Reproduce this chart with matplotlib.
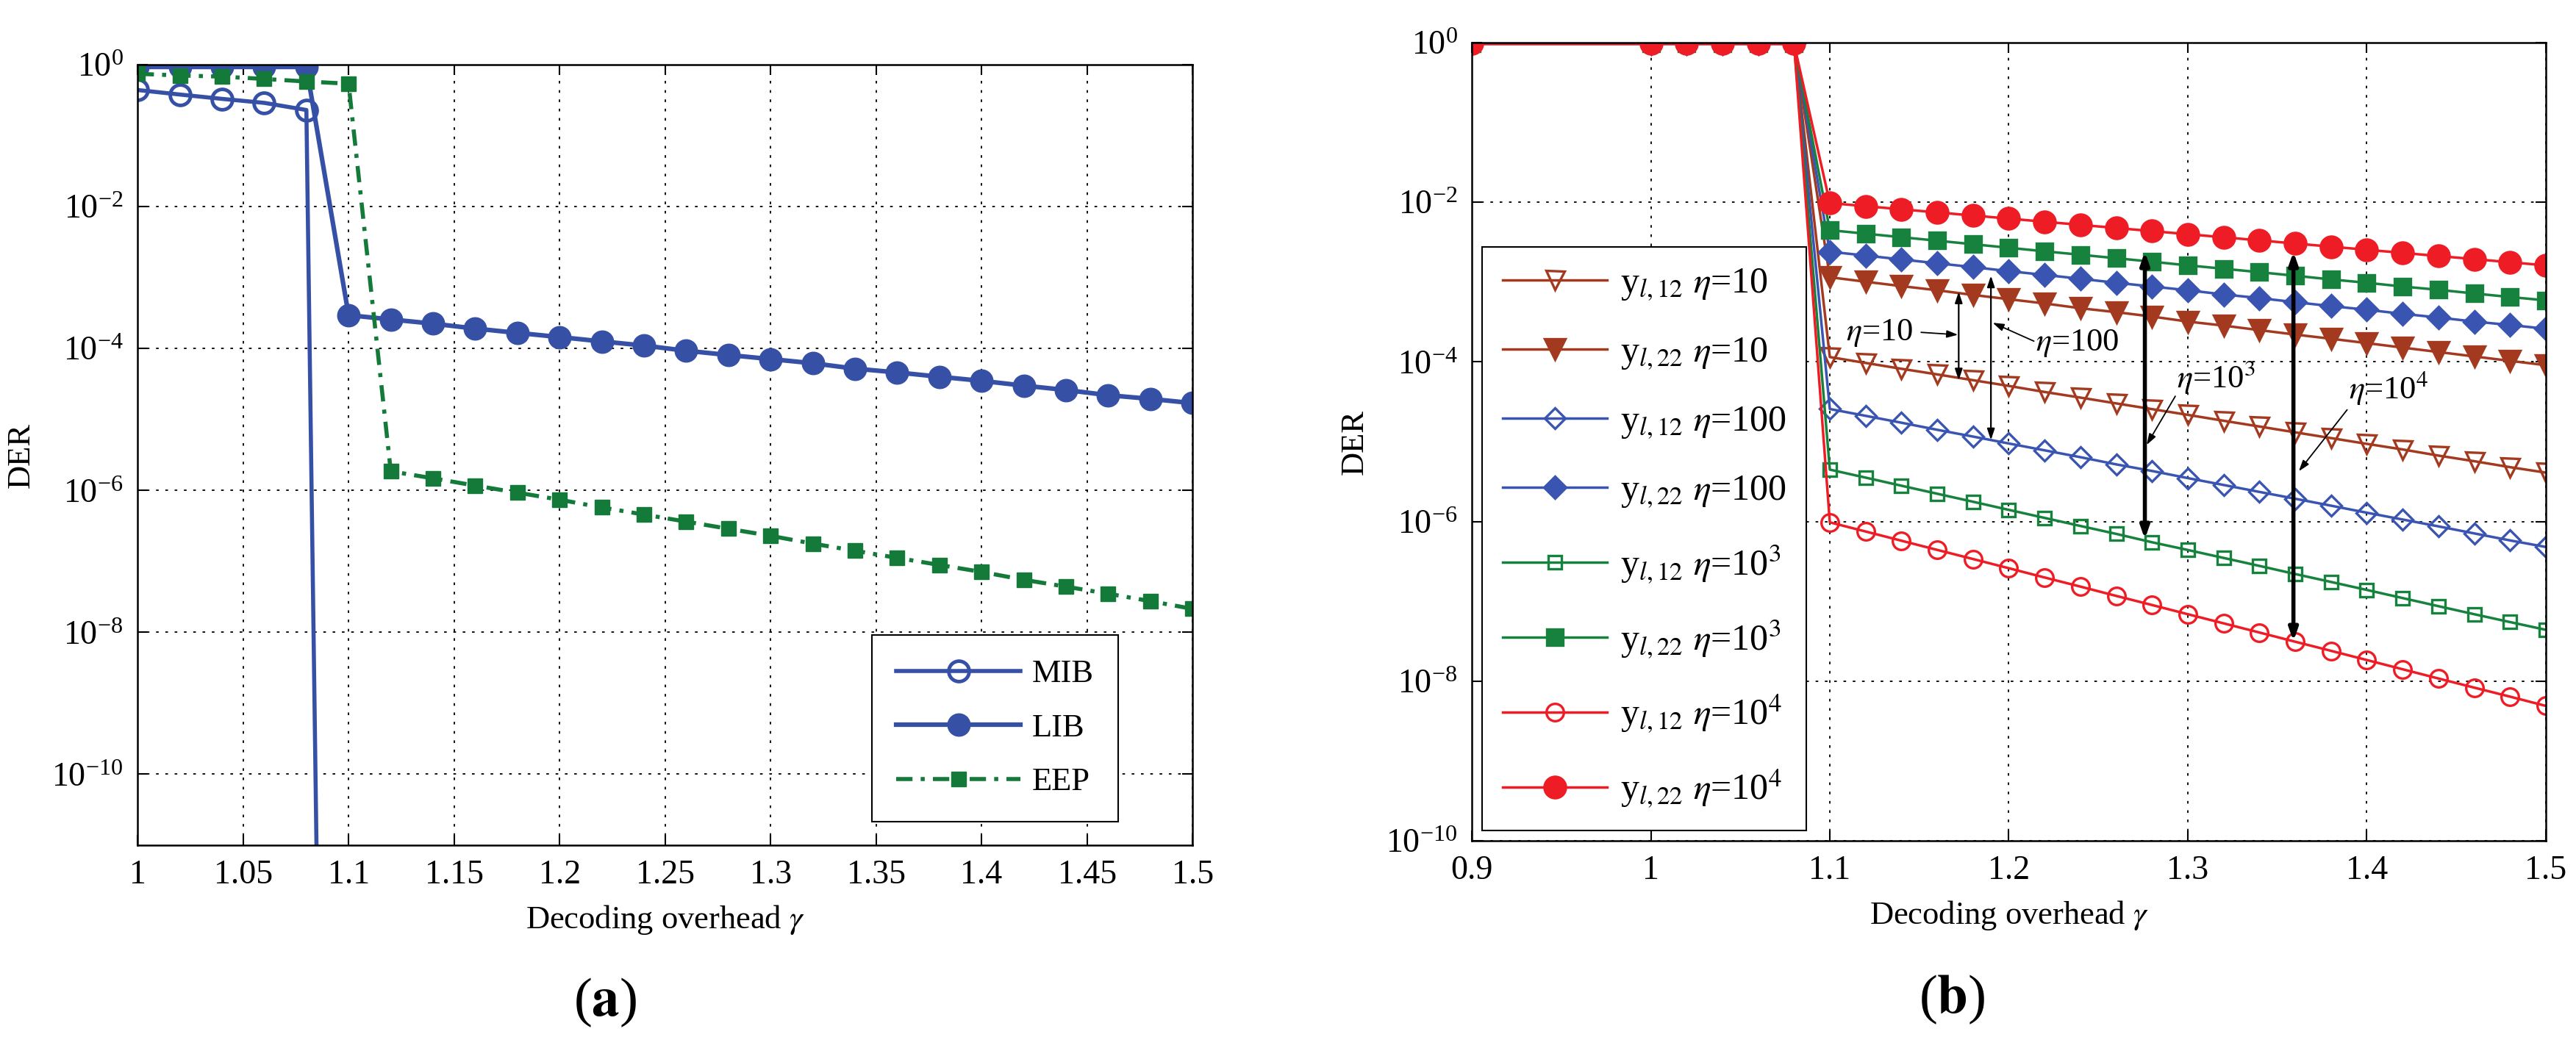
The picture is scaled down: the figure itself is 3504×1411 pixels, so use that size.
import matplotlib
matplotlib.use('Agg')
import matplotlib.pyplot as plt
from matplotlib.ticker import FixedLocator, NullLocator, LogFormatterMathtext

plt.rcParams['font.family'] = ['Liberation Serif', 'DejaVu Serif']
plt.rcParams['mathtext.fontset'] = 'stix'

# ---- (a) MIB / LIB / EEP ----
gamma_a = [1.00, 1.02, 1.04, 1.06, 1.08, 1.10, 1.12, 1.14, 1.16, 1.18, 1.20,
           1.22, 1.24, 1.26, 1.28, 1.30, 1.32, 1.34, 1.36, 1.38, 1.40,
           1.42, 1.44, 1.46, 1.48, 1.50]
mib_x = [1.00, 1.02, 1.04, 1.06, 1.08, 1.10]
mib_der = [0.44, 0.38, 0.33, 0.29, 0.23, 1e-44]
lib_der = [0.93, 0.93, 0.93, 0.93, 0.93,
           2.95e-4, 2.57e-4, 2.24e-4, 1.91e-4, 1.66e-4, 1.45e-4, 1.26e-4,
           1.10e-4, 9.3e-5, 8.1e-5, 7.1e-5, 6.2e-5, 5.2e-5, 4.6e-5, 4.0e-5,
           3.5e-5, 3.0e-5, 2.6e-5, 2.2e-5, 1.95e-5, 1.7e-5]
eep_der = [0.745, 0.705, 0.68, 0.63, 0.58, 0.54,
           1.86e-6, 1.48e-6, 1.17e-6, 9.3e-7, 7.4e-7, 5.75e-7, 4.57e-7,
           3.63e-7, 2.88e-7, 2.29e-7, 1.78e-7, 1.41e-7, 1.12e-7, 8.9e-8,
           7.1e-8, 5.5e-8, 4.4e-8, 3.5e-8, 2.75e-8, 2.14e-8]

# ---- (b) y_l,12 / y_l,22 for several eta ----
gamma_b = [0.90, 1.00, 1.02, 1.04, 1.06, 1.08, 1.10, 1.12, 1.14, 1.16, 1.18,
           1.20, 1.22, 1.24, 1.26, 1.28, 1.30, 1.32, 1.34, 1.36, 1.38,
           1.40, 1.42, 1.44, 1.46, 1.48, 1.50]
start_b = [0.97, 0.97, 0.97, 0.97, 0.97, 0.97]
y12_eta10 = start_b + [1.15e-4, 9.7e-5, 8.2e-5, 6.97e-5, 5.9e-5, 5.0e-5, 4.2e-5,
                       3.57e-5, 3.02e-5, 2.56e-5, 2.17e-5, 1.83e-5, 1.55e-5,
                       1.31e-5, 1.11e-5, 9.4e-6, 8.0e-6, 6.7e-6, 5.7e-6, 4.8e-6, 4.1e-6]
y22_eta10 = start_b + [1.15e-3, 1.01e-3, 8.9e-4, 7.9e-4, 6.9e-4, 6.1e-4, 5.4e-4,
                       4.7e-4, 4.2e-4, 3.7e-4, 3.2e-4, 2.85e-4, 2.5e-4, 2.2e-4,
                       1.95e-4, 1.72e-4, 1.51e-4, 1.33e-4, 1.17e-4, 1.03e-4, 9.1e-5]
y12_eta100 = start_b + [2.57e-5, 2.11e-5, 1.73e-5, 1.41e-5, 1.16e-5, 9.5e-6, 7.8e-6,
                        6.4e-6, 5.2e-6, 4.3e-6, 3.5e-6, 2.87e-6, 2.35e-6, 1.93e-6,
                        1.58e-6, 1.29e-6, 1.06e-6, 8.7e-7, 7.1e-7, 5.8e-7, 4.8e-7]
y22_eta100 = start_b + [2.40e-3, 2.15e-3, 1.92e-3, 1.72e-3, 1.54e-3, 1.37e-3, 1.23e-3,
                        1.10e-3, 9.8e-4, 8.8e-4, 7.9e-4, 7.0e-4, 6.3e-4, 5.6e-4,
                        5.0e-4, 4.5e-4, 4.0e-4, 3.6e-4, 3.2e-4, 2.9e-4, 2.6e-4]
y12_eta1e3 = start_b + [4.47e-6, 3.55e-6, 2.81e-6, 2.23e-6, 1.77e-6, 1.40e-6, 1.11e-6,
                        8.8e-7, 7.0e-7, 5.5e-7, 4.4e-7, 3.5e-7, 2.78e-7, 2.2e-7,
                        1.75e-7, 1.39e-7, 1.10e-7, 8.7e-8, 6.9e-8, 5.5e-8, 4.4e-8]
y22_eta1e3 = start_b + [4.47e-3, 4.04e-3, 3.65e-3, 3.30e-3, 2.98e-3, 2.69e-3, 2.43e-3,
                        2.20e-3, 1.99e-3, 1.80e-3, 1.62e-3, 1.47e-3, 1.33e-3, 1.20e-3,
                        1.08e-3, 9.8e-4, 8.8e-4, 8.0e-4, 7.2e-4, 6.5e-4, 5.9e-4]
y12_eta1e4 = start_b + [9.77e-7, 7.5e-7, 5.75e-7, 4.41e-7, 3.39e-7, 2.60e-7, 1.99e-7,
                        1.53e-7, 1.17e-7, 9.0e-8, 6.9e-8, 5.3e-8, 4.07e-8, 3.12e-8,
                        2.4e-8, 1.84e-8, 1.41e-8, 1.08e-8, 8.3e-9, 6.4e-9, 4.9e-9]
y22_eta1e4 = start_b + [9.77e-3, 8.93e-3, 8.16e-3, 7.46e-3, 6.82e-3, 6.24e-3, 5.70e-3,
                        5.21e-3, 4.76e-3, 4.35e-3, 3.98e-3, 3.64e-3, 3.33e-3, 3.04e-3,
                        2.78e-3, 2.54e-3, 2.32e-3, 2.12e-3, 1.94e-3, 1.77e-3, 1.62e-3]

blue_a = '#3650a6'
green_a = '#147a3a'
brown = '#a33a20'
blue_b = '#3a54b2'
green_b = '#17823d'
red = '#ee1c25'

fig = plt.figure(figsize=(35.05, 14.11), dpi=100)
ax1 = fig.add_axes([0.0534, 0.1850, 0.4094, 0.7526])
ax2 = fig.add_axes([0.5712, 0.1892, 0.4168, 0.7697])


def style_axes(ax):
    ax.set_yscale('log')
    ax.yaxis.set_major_formatter(LogFormatterMathtext())
    ax.yaxis.set_minor_locator(NullLocator())
    ax.grid(True, which='major', color='black', linestyle=(0, (2, 5)), linewidth=1.3)
    ax.tick_params(direction='in', top=True, right=True, length=10, width=1.5,
                   labelsize=33, pad=14)
    for s in ax.spines.values():
        s.set_linewidth(1.8)
    ax.set_ylabel('DER', fontsize=32, labelpad=16)
    ax.set_xlabel(r'Decoding overhead $\gamma$', fontsize=32, labelpad=12)


# panel (a)
ax1.plot(mib_x, mib_der, '-o', color=blue_a, lw=4, ms=20, mfc='none', mew=3.5, label='MIB')
ax1.plot(gamma_a, lib_der, '-o', color=blue_a, lw=4.5, ms=22, label='LIB')
ax1.plot(gamma_a, eep_der, marker='s', color=green_a, lw=4,
         linestyle=(0, (4, 2, 1, 2)), ms=15, label='EEP')
style_axes(ax1)
ax1.set_xlim(1, 1.5)
ax1.set_ylim(1e-11, 1)
ax1.xaxis.set_major_locator(FixedLocator([1, 1.05, 1.1, 1.15, 1.2, 1.25, 1.3, 1.35, 1.4, 1.45, 1.5]))
ax1.set_xticklabels(['1', '1.05', '1.1', '1.15', '1.2', '1.25', '1.3', '1.35', '1.4', '1.45', '1.5'])
ax1.yaxis.set_major_locator(FixedLocator([1e0, 1e-2, 1e-4, 1e-6, 1e-8, 1e-10]))
leg1 = ax1.legend(loc='upper left', bbox_to_anchor=(0.3384, 0.3877), bbox_transform=fig.transFigure,
                  fontsize=32, handlelength=3.8, handletextpad=0.35, labelspacing=0.75,
                  borderpad=0.75, borderaxespad=0, fancybox=False, framealpha=1,
                  edgecolor='black')
leg1.get_frame().set_linewidth(1.5)

# panel (b)
series_b = [
    (y12_eta10, brown, 'v', 'none', 18, r'y$_{l,12}$ $\eta$=10'),
    (y22_eta10, brown, 'v', brown, 20, r'y$_{l,22}$ $\eta$=10'),
    (y12_eta100, blue_b, 'D', 'none', 14, r'y$_{l,12}$ $\eta$=100'),
    (y22_eta100, blue_b, 'D', blue_b, 15, r'y$_{l,22}$ $\eta$=100'),
    (y12_eta1e3, green_b, 's', 'none', 13, r'y$_{l,12}$ $\eta$=10$^3$'),
    (y22_eta1e3, green_b, 's', green_b, 16, r'y$_{l,22}$ $\eta$=10$^3$'),
    (y12_eta1e4, red, 'o', 'none', 17, r'y$_{l,12}$ $\eta$=10$^4$'),
    (y22_eta1e4, red, 'o', red, 21, r'y$_{l,22}$ $\eta$=10$^4$'),
]
for vals, col, mk, face, size, lab in series_b:
    ax2.plot(gamma_b, vals, '-', color=col, marker=mk, mfc=face, ms=size, mew=2.4,
             lw=2.5, label=lab)
style_axes(ax2)
ax2.set_xlim(0.9, 1.5)
ax2.set_ylim(1e-10, 1)
ax2.xaxis.set_major_locator(FixedLocator([0.9, 1.0, 1.1, 1.2, 1.3, 1.4, 1.5]))
ax2.set_xticklabels(['0.9', '1', '1.1', '1.2', '1.3', '1.4', '1.5'])
ax2.yaxis.set_major_locator(FixedLocator([1e0, 1e-2, 1e-4, 1e-6, 1e-8, 1e-10]))
leg2 = ax2.legend(loc='upper left', bbox_to_anchor=(0.5752, 0.7619), bbox_transform=fig.transFigure,
                  fontsize=36, handlelength=2.85, handletextpad=0.35, labelspacing=0.9,
                  borderpad=0.55, borderaxespad=0, fancybox=False, framealpha=1,
                  edgecolor='black')
leg2.get_frame().set_linewidth(1.5)

# annotation arrows in panel (b)
thin = dict(arrowstyle='<|-|>,head_length=0.9,head_width=0.3', color='black', lw=1.6,
            shrinkA=0, shrinkB=0)
thick = dict(arrowstyle='<|-|>,head_length=1.0,head_width=0.35', color='black', lw=4,
             shrinkA=0, shrinkB=0)
pointer = dict(arrowstyle='-|>,head_length=0.9,head_width=0.3', color='black', lw=1.3,
               shrinkA=0, shrinkB=0)
ax2.annotate('', xy=(1.172, 10**-4.23), xytext=(1.172, 10**-3.12), arrowprops=thin)
ax2.annotate('', xy=(1.190, 10**-4.98), xytext=(1.190, 10**-2.92), arrowprops=thin)
ax2.annotate('', xy=(1.276, 10**-6.22), xytext=(1.276, 10**-2.62), arrowprops=thick)
ax2.annotate('', xy=(1.359, 10**-7.50), xytext=(1.359, 10**-2.62), arrowprops=thick)

ax2.text(1.109, 10**-3.64, r'$\eta$=10', fontsize=32, ha='left', va='center')
ax2.annotate('', xy=(1.1716, 10**-3.66), xytext=(1.151, 10**-3.63), arrowprops=pointer)
ax2.text(1.215, 10**-3.77, r'$\eta$=100', fontsize=32, ha='left', va='center')
ax2.annotate('', xy=(1.191, 10**-3.51), xytext=(1.214, 10**-3.74), arrowprops=pointer)
ax2.text(1.294, 10**-4.19, r'$\eta$=10$^3$', fontsize=32, ha='left', va='center')
ax2.annotate('', xy=(1.277, 10**-5.04), xytext=(1.293, 10**-4.43), arrowprops=pointer)
ax2.text(1.390, 10**-4.33, r'$\eta$=10$^4$', fontsize=32, ha='left', va='center')
ax2.annotate('', xy=(1.362, 10**-5.37), xytext=(1.389, 10**-4.60), arrowprops=pointer)

# panel captions
fig.text(0.2348, 0.033, r'($\mathbf{a}$)', fontsize=54, ha='center', va='center')
fig.text(0.7575, 0.036, r'($\mathbf{b}$)', fontsize=54, ha='center', va='center')

fig.savefig('out.png', dpi=100, facecolor='white')
